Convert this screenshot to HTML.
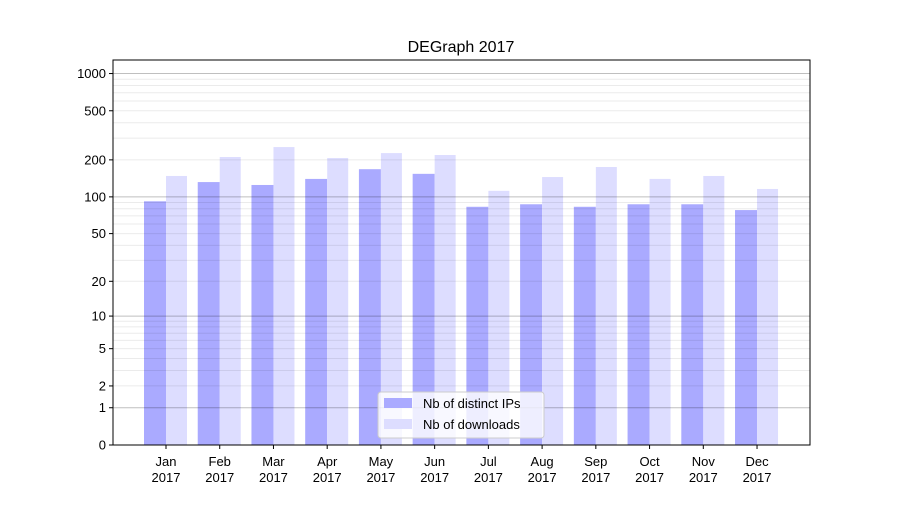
<!DOCTYPE html>
<html><head><meta charset="utf-8"><style>
body{margin:0;background:#fff;font-family:"Liberation Sans","DejaVu Sans",sans-serif}
svg text{font-family:"Liberation Sans","DejaVu Sans",sans-serif;fill:#000}
</style></head><body>
<svg id="chart" width="900" height="500" xmlns="http://www.w3.org/2000/svg">
<rect width="900" height="500" fill="#fff"/>
<text x="461" y="52" font-size="16" text-anchor="middle">DEGraph 2017</text>
<g id="grid"></g>
<g id="bars"></g>
<g id="gridtop"></g>
<rect x="113" y="60" width="697" height="385" fill="none" stroke="#000" stroke-width="1"/>
<g id="yticks"></g>
<g id="xticks"></g>
<g>
<rect x="378" y="392" width="166" height="46" rx="3" fill="#fff" fill-opacity="0.8" stroke="#ccc"/>
<rect x="384" y="398" width="28" height="10" fill="#aaaaff"/>
<text x="423" y="408" font-size="13">Nb of distinct IPs</text>
<rect x="384" y="419" width="28" height="10" fill="#ddddff"/>
<text x="423" y="429" font-size="13">Nb of downloads</text>
</g>
</svg>
<script>
const months=["Jan","Feb","Mar","Apr","May","Jun","Jul","Aug","Sep","Oct","Nov","Dec"];
const ips=[92,132,125,140,168,154,83,87,83,87,87,78];
const downloads=[148,211,254,207,227,219,112,145,175,140,148,116];
const yTicks=[0,1,2,5,10,20,50,100,200,500,1000];
const NS="http://www.w3.org/2000/svg";
const L=113,R=810,B=445;
function y(v){return B-123.8*Math.log10(1+v);}
function xc(i){return 166+i*53.73;}
function mk(t,a,p){const e=document.createElementNS(NS,t);for(const k in a)e.setAttribute(k,a[k]);p.appendChild(e);return e;}
const grid=document.getElementById('grid'),gt=document.getElementById('gridtop');
[1,10,100,1000].forEach(d=>{for(let m=2;m<=9;m++){const v=d*m;if(y(v)<60)continue;
const l=mk('line',{x1:L,x2:R,y1:y(v),y2:y(v),stroke:'#000','stroke-opacity':0.08},gt);
}});
[1,10,100,1000].forEach(v=>{const l=mk('line',{x1:L,x2:R,y1:y(v),y2:y(v),stroke:'#000','stroke-opacity':0.25},gt);
});
const bars=document.getElementById('bars');
months.forEach((m,i)=>{
const a=mk('rect',{x:xc(i)-22,y:y(ips[i]),width:22,height:B-y(ips[i]),fill:'#aaaaff'},bars);

const b=mk('rect',{x:xc(i),y:y(downloads[i]),width:21,height:B-y(downloads[i]),fill:'#ddddff'},bars);

});
const yt=document.getElementById('yticks');
yTicks.forEach(v=>{mk('line',{x1:L-4,x2:L,y1:y(v),y2:y(v),stroke:'#000'},yt);
const t=mk('text',{x:L-7,y:y(v)+4.5,'font-size':13,'text-anchor':'end'},yt);t.textContent=v;
});
const xt=document.getElementById('xticks');
months.forEach((m,i)=>{mk('line',{x1:xc(i),x2:xc(i),y1:B,y2:B+4,stroke:'#000'},xt);
const t=mk('text',{x:xc(i),y:466,'font-size':13,'text-anchor':'middle'},xt);t.textContent=m;

const t2=mk('text',{x:xc(i),y:482,'font-size':13,'text-anchor':'middle'},xt);t2.textContent='2017';
});
</script>
</body></html>
